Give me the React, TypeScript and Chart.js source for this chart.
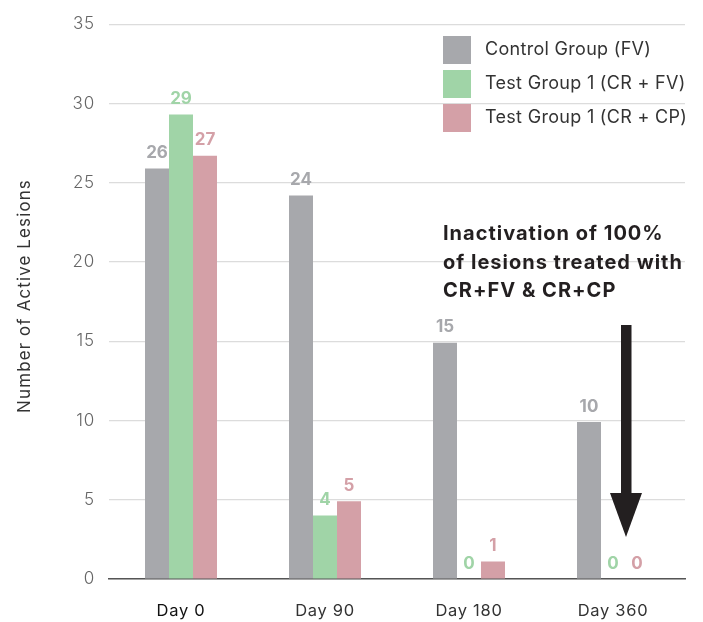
import React, { useEffect, useRef } from "react";
import { Chart, registerables } from "chart.js";

Chart.register(...registerables);

const categories = ["Day 0", "Day 90", "Day 180", "Day 360"];
const controlFV = [25.9, 24.2, 14.9, 9.9];
const testCRFV = [29.3, 4.0, 0, 0];
const testCRCP = [26.7, 4.9, 1.1, 0];
const seriesNames = ["Control Group (FV)", "Test Group 1 (CR + FV)", "Test Group 1 (CR + CP)"];
const yTicks = [0, 5, 10, 15, 20, 25, 30, 35];
const yTitle = "Number of Active Lesions";
const annotationLines = ["Inactivation of 100%", "of lesions treated with", "CR+FV & CR+CP"];

const COLORS = ["#a7a8ac", "#a0d4a7", "#d4a0a7"];
const FONT = "Inter, 'Noto Sans', sans-serif";

const spacingPlugin = {
  id: "spacing",
  beforeDraw(chart: any) {
    chart.ctx.letterSpacing = "0.8px";
  },
};

const labelsPlugin = {
  id: "valueLabels",
  afterDatasetsDraw(chart: any) {
    const ctx = chart.ctx;
    ctx.save();
    ctx.letterSpacing = "0px";
    ctx.font = `bold 17px ${FONT}`;
    ctx.textAlign = "center";
    ctx.textBaseline = "bottom";
    chart.data.datasets.forEach((ds: any, i: number) => {
      const meta = chart.getDatasetMeta(i);
      meta.data.forEach((bar: any, j: number) => {
        ctx.fillStyle = COLORS[i];
        ctx.fillText(String(Math.round(ds.data[j])), bar.x, bar.y - 7);
      });
    });
    ctx.restore();
  },
};

const overlayPlugin = {
  id: "overlay",
  afterDraw(chart: any) {
    const ctx = chart.ctx;
    ctx.save();
    // x category labels
    const xs = chart.scales.x;
    ctx.font = `16.5px ${FONT}`;
    ctx.letterSpacing = "0.7px";
    ctx.textAlign = "center";
    ctx.textBaseline = "middle";
    categories.forEach((c, i) => {
      ctx.fillStyle = i === 0 ? "#111111" : "#333333";
      ctx.fillText(c, xs.getPixelForValue(i), 611);
    });
    // y title
    ctx.save();
    ctx.translate(25, 296);
    ctx.rotate(-Math.PI / 2);
    ctx.font = `17px ${FONT}`;
    ctx.letterSpacing = "1.1px";
    ctx.fillStyle = "#333333";
    ctx.fillText(yTitle, 0, 0);
    ctx.restore();
    // legend
    ctx.font = `18px ${FONT}`;
    ctx.letterSpacing = "0.3px";
    ctx.textAlign = "left";
    ctx.textBaseline = "middle";
    seriesNames.forEach((name, i) => {
      const top = 36 + i * 34;
      ctx.fillStyle = COLORS[i];
      ctx.fillRect(443, top, 28, 28);
      ctx.fillStyle = "#333333";
      ctx.fillText(name, 485, top + 14);
    });
    // annotation
    ctx.font = `bold 20px ${FONT}`;
    ctx.letterSpacing = "1px";
    ctx.fillStyle = "#231f20";
    ctx.textBaseline = "alphabetic";
    annotationLines.forEach((line, i) => {
      ctx.fillText(line, 443, 240 + i * 28.5);
    });
    // arrow
    ctx.fillStyle = "#231f20";
    ctx.fillRect(621, 325, 10.5, 170);
    ctx.beginPath();
    ctx.moveTo(610, 493);
    ctx.lineTo(642, 493);
    ctx.lineTo(626, 537);
    ctx.closePath();
    ctx.fill();
    ctx.restore();
  },
};

export default function App() {
  const ref = useRef<HTMLCanvasElement | null>(null);
  useEffect(() => {
    if (!ref.current) return;
    const chart = new Chart(ref.current, {
      type: "bar",
      data: {
        labels: categories,
        datasets: [
          { label: seriesNames[0], data: controlFV, backgroundColor: COLORS[0] },
          { label: seriesNames[1], data: testCRFV, backgroundColor: COLORS[1] },
          { label: seriesNames[2], data: testCRCP, backgroundColor: COLORS[2] },
        ],
      },
      options: {
        animation: false,
        responsive: false,
        maintainAspectRatio: false,
        layout: { padding: { left: 0, right: 18, top: 18, bottom: 0 } },
        datasets: { bar: { categoryPercentage: 0.5, barPercentage: 1 } },
        plugins: { legend: { display: false }, tooltip: { enabled: false } },
        scales: {
          x: {
            grid: { display: false },
            border: { display: true, color: "#555555", width: 1.5 },
            ticks: { display: false },
            afterFit: (s: any) => {
              s.height = 43;
            },
          },
          y: {
            min: 0,
            max: 35,
            afterBuildTicks: (s: any) => {
              s.ticks = yTicks.map((v) => ({ value: v }));
            },
            grid: { color: "#dcdcdc", drawTicks: false, lineWidth: 1.2 },
            border: { display: false },
            ticks: {
              font: { family: FONT, size: 17, weight: 300 },
              color: "#666666",
              padding: 14,
            },
            afterFit: (s: any) => {
              s.width = 109;
            },
          },
        },
      },
      plugins: [spacingPlugin, labelsPlugin, overlayPlugin],
    });
    return () => chart.destroy();
  }, []);
  return (
    <div style={{ position: "fixed", left: 0, top: 0, width: 703, height: 622, background: "#fff" }}>
      <canvas ref={ref} width={703} height={622} style={{ width: 703, height: 622 }} />
    </div>
  );
}
